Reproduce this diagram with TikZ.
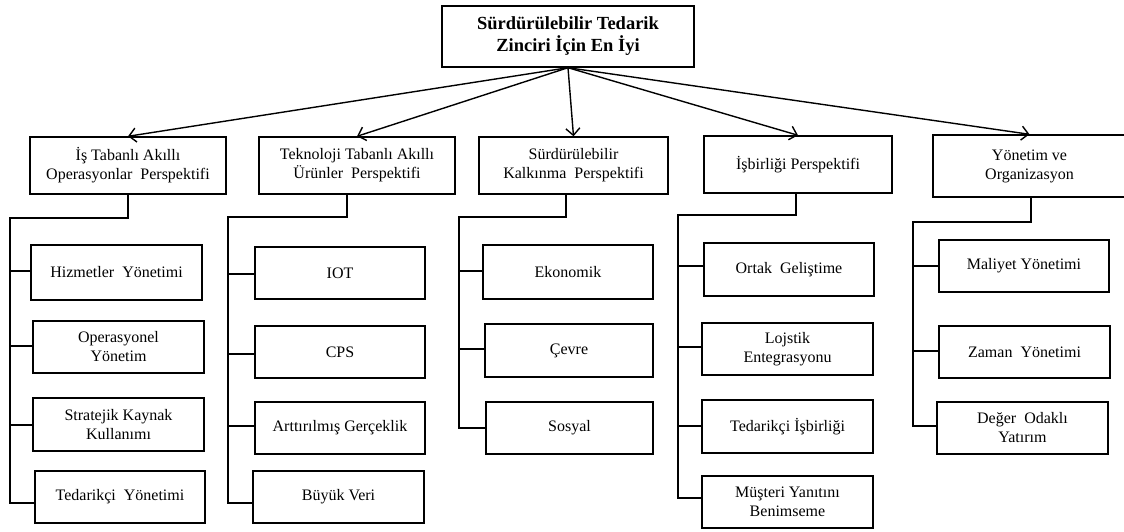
\documentclass[tikz,border=0pt]{standalone}
\usepackage{fontspec}
\setmainfont{Liberation Serif}
\usetikzlibrary{arrows.meta}
\tikzset{
  box/.style={draw, line width=1.4pt, inner sep=0pt, align=center,
    font=\fontsize{16}{19}\selectfont},
  topbox/.style={box, font=\fontsize{18.5}{22}\selectfont\bfseries},
  arr/.style={line width=1.4pt, -{Straight Barb[length=7pt,width=14pt,line width=1.4pt]}},
  conn/.style={line width=1.4pt}
}
\begin{document}
\begin{tikzpicture}[x=1pt,y=-1pt]
\useasboundingbox (0,0) rectangle (1124,532);
% top
\node[topbox, minimum width=252pt, minimum height=61pt] (top) at (568,36.5) {Sürdürülebilir Tedarik\\Zinciri İçin En İyi};
% level 1
\node[box, minimum width=196pt, minimum height=57pt] (b1) at (128,165.5) {İş Tabanlı Akıllı\\Operasyonlar\ \ Perspektifi};
\node[box, minimum width=196pt, minimum height=57pt] (b2) at (357,165.5) {Teknoloji Tabanlı Akıllı\\Ürünler\ \ Perspektifi};
\node[box, minimum width=189pt, minimum height=57pt] (b3) at (573.5,165.5) {Sürdürülebilir\\Kalkınma\ \ Perspektifi};
\node[box, minimum width=188pt, minimum height=57pt] (b4) at (798,164.5) {İşbirliği Perspektifi};
\node[box, minimum width=193pt, minimum height=62pt] (b5) at (1029.5,166) {Yönetim ve\\Organizasyon};
% arrows
\draw[arr] (top.south) -- (b1.north);
\draw[arr] (top.south) -- (b2.north);
\draw[arr] (top.south) -- (b3.north);
\draw[arr] (top.south) -- (b4.north);
\draw[arr] (top.south) -- (b5.north);
% group 1
\node[box, minimum width=171pt, minimum height=55pt] (c11) at (116.5,272.5) {Hizmetler\ \ Yönetimi};
\node[box, minimum width=171pt, minimum height=52pt] (c12) at (118.5,347) {Operasyonel\\Yönetim};
\node[box, minimum width=171pt, minimum height=53pt] (c13) at (118.5,424.5) {Stratejik Kaynak\\Kullanımı};
\node[box, minimum width=170pt, minimum height=52pt] (c14) at (120,497) {Tedarikçi\ \ Yönetimi};
% group 2
\node[box, minimum width=170pt, minimum height=52pt] (c21) at (340,273) {IOT};
\node[box, minimum width=170pt, minimum height=52pt] (c22) at (340,352) {CPS};
\node[box, minimum width=170pt, minimum height=52pt] (c23) at (340,428) {Arttırılmış Gerçeklik};
\node[box, minimum width=171pt, minimum height=52pt] (c24) at (338.5,497) {Büyük Veri};
% group 3
\node[box, minimum width=170pt, minimum height=54pt] (c31) at (568,272) {Ekonomik};
\node[box, minimum width=168pt, minimum height=53pt] (c32) at (569,350.5) {Çevre};
\node[box, minimum width=167pt, minimum height=52pt] (c33) at (569.5,428) {Sosyal};
% group 4
\node[box, minimum width=170pt, minimum height=53pt] (c41) at (789,269.5) {Ortak\ \ Geliştime};
\node[box, minimum width=171pt, minimum height=52pt] (c42) at (787.5,349) {Lojstik\\Entegrasyonu};
\node[box, minimum width=171pt, minimum height=53pt] (c43) at (787.5,426.5) {Tedarikçi İşbirliği};
\node[box, minimum width=171pt, minimum height=52pt] (c44) at (787.5,502) {Müşteri Yanıtını\\Benimseme};
% group 5
\node[box, minimum width=170pt, minimum height=52pt] (c51) at (1024,266) {Maliyet Yönetimi};
\node[box, minimum width=171pt, minimum height=52pt] (c52) at (1024.5,352) {Zaman\ \ Yönetimi};
\node[box, minimum width=171pt, minimum height=52pt] (c53) at (1022.5,428) {Değer\ \ Odaklı\\Yatırım};
% rails
\coordinate (r1) at (10,218);
\coordinate (r2) at (228,217);
\coordinate (r3) at (459,217);
\coordinate (r4) at (678,215);
\coordinate (r5) at (913,222);
% branch points (on the boxes' left sides)
\coordinate (p11) at (c11.west |- 0,271);
\coordinate (p12) at (c12.west |- 0,346);
\coordinate (p13) at (c13.west |- 0,425);
\coordinate (p14) at (c14.west |- 0,503);
\coordinate (p21) at (c21.west |- 0,274);
\coordinate (p22) at (c22.west |- 0,354);
\coordinate (p23) at (c23.west |- 0,426);
\coordinate (p24) at (c24.west |- 0,503);
\coordinate (p31) at (c31.west |- 0,271);
\coordinate (p32) at (c32.west |- 0,349);
\coordinate (p33) at (c33.west |- 0,428);
\coordinate (p41) at (c41.west |- 0,266);
\coordinate (p42) at (c42.west |- 0,347);
\coordinate (p43) at (c43.west |- 0,426);
\coordinate (p44) at (c44.west |- 0,498);
\coordinate (p51) at (c51.west |- 0,266);
\coordinate (p52) at (c52.west |- 0,351);
\coordinate (p53) at (c53.west |- 0,426);
% group 1 connectors
\draw[conn] (b1.south) |- (r1) |- (p14);
\draw[conn] (r1 |- p11) -- (p11);
\draw[conn] (r1 |- p12) -- (p12);
\draw[conn] (r1 |- p13) -- (p13);
% group 2 connectors
\draw[conn] ([xshift=-10pt]b2.south) |- (r2) |- (p24);
\draw[conn] (r2 |- p21) -- (p21);
\draw[conn] (r2 |- p22) -- (p22);
\draw[conn] (r2 |- p23) -- (p23);
% group 3 connectors
\draw[conn] ([xshift=-7.5pt]b3.south) |- (r3) |- (p33);
\draw[conn] (r3 |- p31) -- (p31);
\draw[conn] (r3 |- p32) -- (p32);
% group 4 connectors
\draw[conn] ([xshift=-2pt]b4.south) |- (r4) |- (p44);
\draw[conn] (r4 |- p41) -- (p41);
\draw[conn] (r4 |- p42) -- (p42);
\draw[conn] (r4 |- p43) -- (p43);
% group 5 connectors
\draw[conn] ([xshift=1.5pt]b5.south) |- (r5) |- (p53);
\draw[conn] (r5 |- p51) -- (p51);
\draw[conn] (r5 |- p52) -- (p52);
\end{tikzpicture}
\end{document}
